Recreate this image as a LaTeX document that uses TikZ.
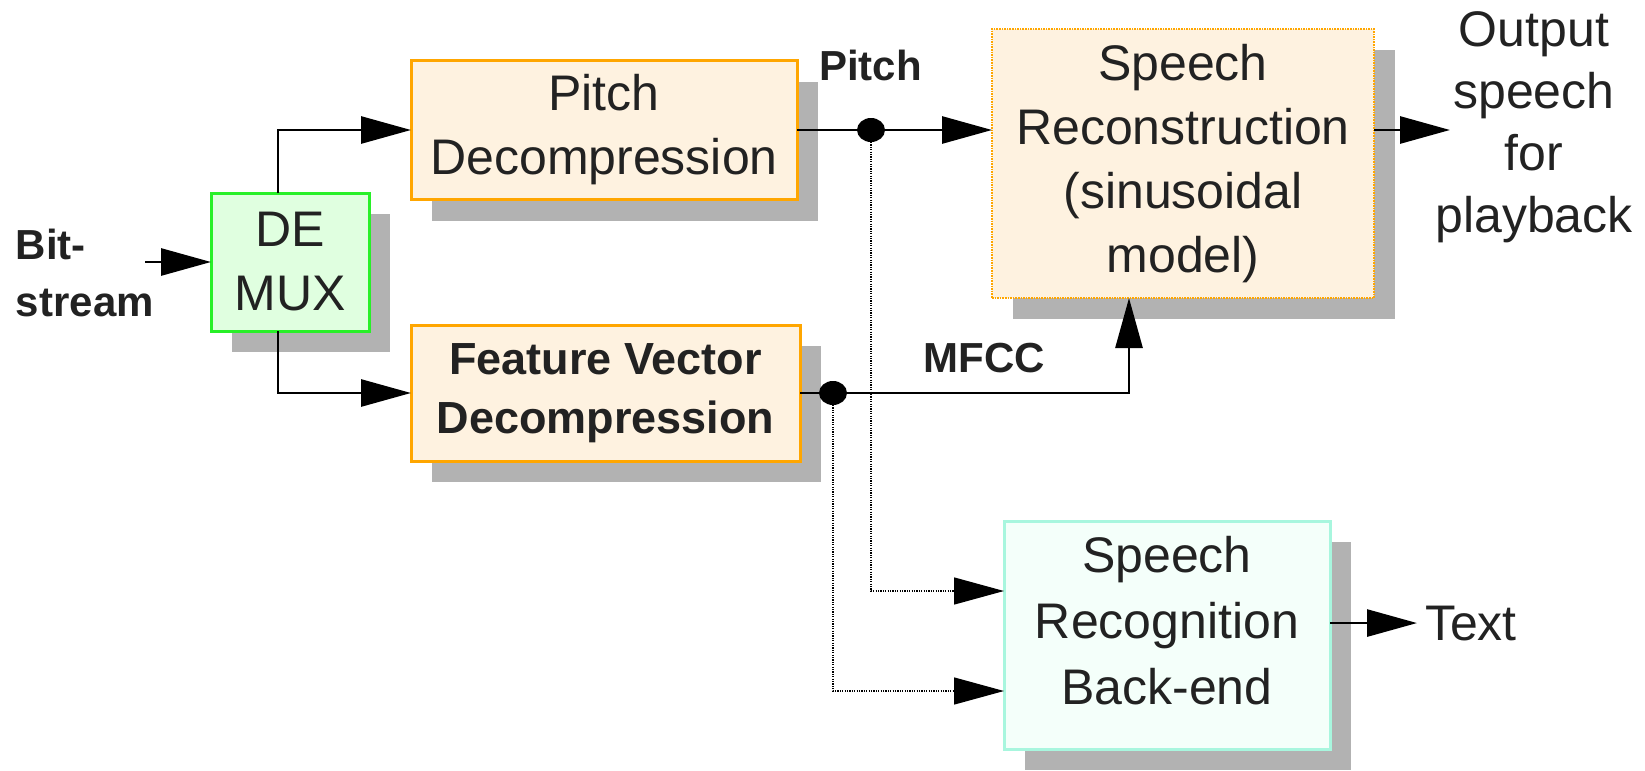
\documentclass[tikz,border=0pt]{standalone}
\usepackage{fontspec}
\setmainfont{Liberation Sans}
\usetikzlibrary{arrows.meta,shadows,shapes.geometric}
\definecolor{txt}{RGB}{34,34,34}
\definecolor{shgray}{RGB}{178,178,178}
\definecolor{demuxfill}{RGB}{224,255,224}
\definecolor{demuxline}{RGB}{40,240,40}
\definecolor{orfill}{RGB}{254,242,224}
\definecolor{orline}{RGB}{255,166,0}
\definecolor{recfill}{RGB}{244,255,250}
\definecolor{recline}{RGB}{168,246,222}
\begin{document}
\begin{tikzpicture}[x=0.5pt,y=-0.5pt,
  blk/.style={rectangle, inner sep=0pt, outer sep=0pt, align=center, text=txt,
    font=\fontsize{25pt}{32pt}\selectfont, line width=1.5pt,
    drop shadow={opacity=1, fill=shgray, shadow xshift=10.5pt, shadow yshift=-10.5pt}},
  orbox/.style={blk, fill=orfill, draw=orline},
  lbl/.style={inner sep=0pt, outer sep=0pt, text=txt, font=\fontsize{21pt}{28.5pt}\selectfont\bfseries},
  txtlbl/.style={inner sep=0pt, outer sep=0pt, text=txt, font=\fontsize{25pt}{31pt}\selectfont},
  conn/.style={line width=1.4pt, black},
  arr/.style={conn, -{Triangle[length=25pt,width=13.5pt]}},
  dotarr/.style={line width=0.7pt, black, dash pattern=on 0.6pt off 0.6pt, -{Triangle[length=25pt,width=13.5pt]}},
  jdot/.style={ellipse, fill=black, inner sep=0pt, minimum width=14pt, minimum height=12pt}
]
\useasboundingbox (0,0) rectangle (1645,771);

% blocks
\node[blk, fill=demuxfill, draw=demuxline, minimum width=79pt, minimum height=69pt] (demux) at (290,262) {DE\\MUX};
\node[orbox, minimum width=193pt, minimum height=69.5pt] (pitchd) at (604,130) {Pitch\\Decompression};
\node[orbox, font=\fontsize{22.5pt}{29.5pt}\selectfont\bfseries, minimum width=194.5pt, minimum height=68pt] (feat) at (605.5,393) {Feature Vector\\Decompression\rule[-3pt]{0pt}{3pt}};
\node[blk, fill=orfill, draw=orline, line width=1.1pt, dash pattern=on 0.8pt off 0.5pt, minimum width=191pt, minimum height=134.5pt] (recon) at (1183,163.5) {Speech\\Reconstruction\\(sinusoidal\\model)};
\node[blk, fill=recfill, draw=recline, font=\fontsize{25pt}{33pt}\selectfont, minimum width=163pt, minimum height=114pt] (recog) at (1167,635) {Speech\\Recognition\\Back-end\rule[-15pt]{0pt}{15pt}};

% labels
\node[lbl, anchor=west, align=left] (bits) at (16,273) {Bit-\\stream};
\node[lbl, anchor=base] (pitchlbl) at (870.5,80) {Pitch};
\node[lbl, anchor=base] (mfcclbl) at (984.5,372) {MFCC};
\node[txtlbl, anchor=base west] (textout) at (1425,640) {Text};
\node[txtlbl, align=center] (outlbl) at (1534,127) {Output\\speech\\for\\playback};

% junctions
\coordinate (bsin) at (145,262);
\coordinate (mturn) at (1129,393);
\coordinate (outtip) at (1450,130);
\node[jdot] (pdot) at (871,130) {};
\node[jdot] (fdot) at (833,393) {};

% dotted branches to recognition
\draw[dotarr] (pdot.center) |- ([yshift=22pt]recog.west);
\draw[dotarr] (fdot.center) |- ([yshift=-28pt]recog.west);

% connectors
\draw[arr] (bsin) -- (demux.west);
\draw[arr] ([xshift=-6pt]demux.north) |- (pitchd.west);
\draw[arr] ([xshift=-6pt]demux.south) |- (feat.west);
\draw[conn] (pitchd.east) -- (pdot.center);
\draw[arr] (pdot.center) -- (pdot -| recon.west);
\draw[arr] (feat.east) -- (mturn) -- (mturn |- recon.south);
\draw[arr] (recon.east |- pdot) -- (outtip);
\draw[arr] (recog.east |- textout.west) -- ([xshift=-4pt]textout.west);
\end{tikzpicture}
\end{document}
